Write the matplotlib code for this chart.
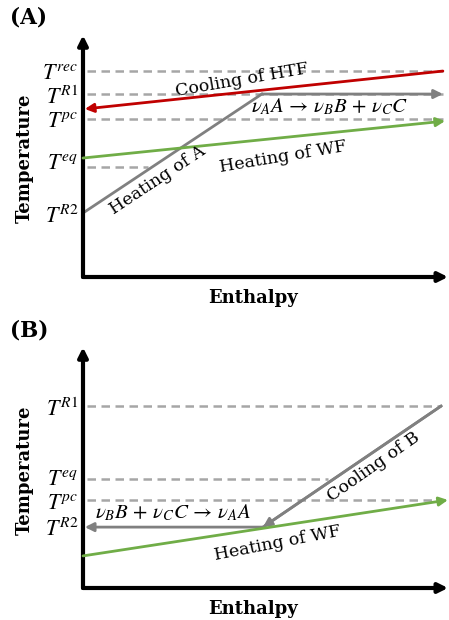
import matplotlib
matplotlib.use("Agg")
import matplotlib.pyplot as plt

plt.rcParams['font.family'] = ['DejaVu Serif']
plt.rcParams['mathtext.fontset'] = 'stix'

# panel A: temperature levels (axis height = 1) and line end points (enthalpy, temperature)
levels_a = {'rec': 0.869, 'R1': 0.772, 'pc': 0.667, 'eq': 0.464, 'R2': 0.270}
label_y_a = {'rec': 0.86, 'R1': 0.755, 'pc': 0.66, 'eq': 0.48, 'R2': 0.253}
dash_end_a = {'rec': 0.986, 'R1': 0.986, 'pc': 0.986, 'eq': 0.178, 'R2': 0.0}
htf_x = [0.986, 0.005]
htf_y = [0.869, 0.709]
heat_a_x = [0.0, 0.49, 0.986]
heat_a_y = [0.270, 0.772, 0.772]
wf_a_x = [0.0, 0.992]
wf_a_y = [0.502, 0.658]

# panel B
levels_b = {'R1': 0.771, 'eq': 0.462, 'pc': 0.373}
label_y_b = {'R1': 0.755, 'eq': 0.462, 'pc': 0.362, 'R2': 0.245}
dash_end_b = {'R1': 0.981, 'eq': 0.671, 'pc': 0.986}
cool_b_x = [0.981, 0.493, 0.005]
cool_b_y = [0.771, 0.258, 0.258]
wf_b_x = [0.0, 1.0]
wf_b_y = [0.136, 0.373]

RED = '#c00000'
GREEN = '#70ad47'
GRAY = '#808080'
DASH = '#a6a6a6'

W, H = 449, 620
fig = plt.figure(figsize=(W / 100, H / 100), dpi=100)
ax_a = fig.add_axes([83 / W, (H - 277) / H, 365 / W, 237 / H])
ax_b = fig.add_axes([83 / W, (H - 588) / H, 365 / W, 236 / H])


def arrow(ax, x0, y0, x1, y1, color, lw=2.0, ms=13):
    ax.annotate('', xy=(x1, y1), xytext=(x0, y0), annotation_clip=False,
                arrowprops=dict(arrowstyle='-|>', color=color,
                                lw=lw, mutation_scale=ms, shrinkA=0, shrinkB=0))


def setup(ax, letter, levels, label_y, dash_end):
    ax.set_xlim(0, 1)
    ax.set_ylim(0, 1)
    ax.axis('off')
    # axes drawn as arrows
    arrow(ax, 0, 0, 0, 1.02, 'black', lw=3, ms=14)
    arrow(ax, 0, 0, 1.0, 0, 'black', lw=3, ms=14)
    for k, v in levels.items():
        if dash_end.get(k, 0) > 0:
            ax.plot([0.012, dash_end[k]], [v, v], color=DASH, lw=1.8,
                    dashes=(3.4, 2.2), zorder=1)
    for k, v in label_y.items():
        ax.text(-0.012, v, r'$T^{%s}$' % k, ha='right', va='center', fontsize=16)
    ax.text(-0.16, 0.5, 'Temperature', rotation=90, ha='center', va='center',
            fontsize=13, fontweight='bold')
    ax.text(0.465, -0.09, 'Enthalpy', ha='center', va='center',
            fontsize=13, fontweight='bold')
    ax.text(-0.2, 1.093, letter, ha='left', va='center', fontsize=15.5, fontweight='bold')


setup(ax_a, '(A)', levels_a, label_y_a, dash_end_a)
setup(ax_b, '(B)', levels_b, label_y_b, dash_end_b)

# panel A lines
arrow(ax_a, htf_x[0], htf_y[0], htf_x[1], htf_y[1], RED)
ax_a.plot(heat_a_x[:2], heat_a_y[:2], color=GRAY, lw=2, zorder=2)
arrow(ax_a, heat_a_x[1], heat_a_y[1], heat_a_x[2], heat_a_y[2], GRAY)
arrow(ax_a, wf_a_x[0], wf_a_y[0], wf_a_x[1], wf_a_y[1], GREEN)

ax_a.text(0.435, 0.83, 'Cooling of HTF', rotation=9.8, ha='center', va='center',
          rotation_mode='anchor', fontsize=12.5)
ax_a.text(0.676, 0.72, r'$\nu_A A \,\rightarrow\, \nu_B B \,+\, \nu_C C$', ha='center',
          va='center', fontsize=15)
ax_a.text(0.548, 0.506, 'Heating of WF', rotation=9.5, ha='center', va='center',
          rotation_mode='anchor', fontsize=12.5)
ax_a.text(0.205, 0.41, 'Heating of A', rotation=33.5, ha='center', va='center',
          rotation_mode='anchor', fontsize=12.5)

# panel B lines
ax_b.plot(cool_b_x[:2], cool_b_y[:2], color=GRAY, lw=2, zorder=2)
arrow(ax_b, cool_b_x[0], cool_b_y[0], cool_b_x[1], cool_b_y[1], GRAY)
arrow(ax_b, cool_b_x[1], cool_b_y[1], cool_b_x[2], cool_b_y[2], GRAY)
arrow(ax_b, wf_b_x[0], wf_b_y[0], wf_b_x[1], wf_b_y[1], GREEN)

ax_b.text(0.795, 0.515, 'Cooling of B', rotation=35, ha='center', va='center',
          rotation_mode='anchor', fontsize=12.5)
ax_b.text(0.247, 0.318, r'$\nu_B B \,+\, \nu_C C \,\rightarrow\, \nu_A A$', ha='center',
          va='center', fontsize=15)
ax_b.text(0.532, 0.19, 'Heating of WF', rotation=11, ha='center', va='center',
          rotation_mode='anchor', fontsize=12.5)

fig.savefig('out.png', dpi=100)
